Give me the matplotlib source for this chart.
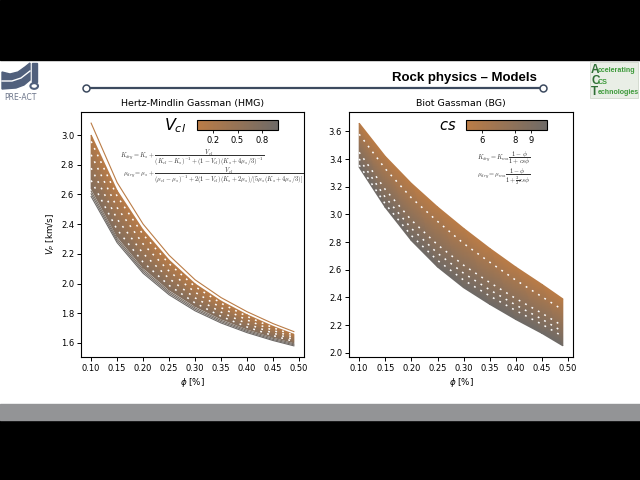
import numpy as np
import matplotlib.pyplot as plt
import matplotlib.patches as mpatches
from matplotlib.colors import LinearSegmentedColormap, Normalize
from matplotlib.ticker import MultipleLocator

# porosity grid (fraction)
phi = [0.10, 0.15, 0.20, 0.25, 0.30, 0.35, 0.40, 0.45, 0.49]

# Hertz-Mindlin Gassman, Vp [km/s]
hmg_top = [3.08, 2.68, 2.40, 2.19, 2.025, 1.905, 1.81, 1.73, 1.676]
hmg_upper = [3.00, 2.625, 2.36, 2.157, 1.997, 1.881, 1.789, 1.711, 1.658]
hmg_lower = [2.64, 2.317, 2.105, 1.957, 1.846, 1.761, 1.693, 1.638, 1.601]
hmg_gray1 = [2.622, 2.303, 2.093, 1.946, 1.836, 1.752, 1.685, 1.631, 1.594]
hmg_gray2 = [2.604, 2.289, 2.081, 1.935, 1.826, 1.743, 1.677, 1.623, 1.587]
hmg_gray3 = [2.586, 2.275, 2.069, 1.924, 1.816, 1.734, 1.669, 1.616, 1.580]
hmg_dash1 = [2.957, 2.588, 2.329, 2.133, 1.979, 1.867, 1.778, 1.702, 1.651]
hmg_dash2 = [2.867, 2.511, 2.266, 2.083, 1.941, 1.837, 1.754, 1.684, 1.637]
hmg_dash3 = [2.777, 2.434, 2.202, 2.033, 1.903, 1.807, 1.729, 1.666, 1.623]
hmg_dash4 = [2.694, 2.363, 2.143, 1.987, 1.869, 1.779, 1.707, 1.649, 1.610]

# Biot Gassman, Vp [km/s]
bg_upper = [3.66, 3.42, 3.225, 3.055, 2.90, 2.755, 2.62, 2.495, 2.39]
bg_lower = [3.34, 3.05, 2.81, 2.62, 2.47, 2.35, 2.24, 2.14, 2.05]
bg_dash1 = [3.58, 3.33, 3.12, 2.95, 2.79, 2.655, 2.525, 2.405, 2.31]
bg_dash2 = [3.449, 3.18, 2.959, 2.781, 2.633, 2.508, 2.392, 2.286, 2.193]
bg_dash3 = [3.401, 3.124, 2.899, 2.72, 2.575, 2.455, 2.345, 2.243, 2.152]
bg_dash4 = [3.356, 3.076, 2.847, 2.668, 2.526, 2.411, 2.305, 2.206, 2.118]

vcl_ticks = [0.2, 0.5, 0.8]
cs_ticks = [6, 8, 9]

cmap = LinearSegmentedColormap.from_list('clay', ['#bb7c46', '#6e6a67'])
W, H = 640, 480


def fbox(x0, y0, x1, y1):
    # pixel box (top-left origin) -> figure fraction
    return [x0 / W, 1 - y1 / H, (x1 - x0) / W, (y1 - y0) / H]


def fp(x, y):
    return (x / W, 1 - y / H)


def band(ax, x, lo, hi, c_lo, c_hi):
    X = np.array([x, x])
    Y = np.array([lo, hi])
    C = np.array([[c_lo] * len(x), [c_hi] * len(x)])
    ax.pcolormesh(X, Y, C, shading='gouraud', cmap=cmap, vmin=0, vmax=1)


def dots(ax, x, y):
    ax.plot(x, y, color='white', lw=1.1, ls=(0, (1.2, 3.6)))


fig = plt.figure(figsize=(6.4, 4.8), dpi=100)
fig.patch.set_facecolor('white')

# slide frame
fig.patches.append(mpatches.Rectangle((0, 1 - 60 / H), 1, 60 / H, transform=fig.transFigure, color='black'))
fig.patches.append(mpatches.Rectangle((0, 0), 1, 60 / H, transform=fig.transFigure, color='black'))
fig.patches.append(mpatches.Rectangle((0, 60 / H), 1, 16 / H, transform=fig.transFigure, color='#939496'))

# header
fig.text(537 / W, 1 - 78 / H, 'Rock physics \u2013 Models', ha='right', va='center',
         fontsize=9.5, fontweight='bold', family='Liberation Sans')
fig.add_artist(plt.Line2D([86 / W, 543 / W], [1 - 88 / H] * 2, color='#3c4a5f', lw=1.6,
                          marker='o', ms=5, mfc='white', mec='#3c4a5f', mew=1.1))

# PRE-ACT logo
logo_c = '#51607c'
swoosh = [(2, 72), (10, 74), (18, 72), (25, 67), (30, 63), (30, 80), (24, 85), (16, 88), (2, 89)]
fig.patches.append(mpatches.Polygon([fp(*p) for p in swoosh], closed=True,
                                    transform=fig.transFigure, color=logo_c))
fig.add_artist(plt.Line2D([fp(2, 81)[0], fp(12, 81)[0], fp(21, 78)[0], fp(30, 71)[0]],
                          [fp(2, 81)[1], fp(12, 81)[1], fp(21, 78)[1], fp(30, 71)[1]],
                          color='white', lw=1.0))
fig.patches.append(mpatches.Rectangle(fp(32, 82), 4.5 / W, 19 / H, transform=fig.transFigure, color=logo_c))
fig.patches.append(mpatches.Circle(fp(34.2, 86), 3.8 / W, transform=fig.transFigure,
                                   facecolor='white', edgecolor=logo_c, lw=1.5))
fig.text(20 / W, 1 - 97 / H, 'PRE-ACT', ha='center', va='center', fontsize=5.5, color='#6b7489')

# ACT logo
fig.patches.append(mpatches.Rectangle(fp(590, 98), 48 / W, 36 / H, transform=fig.transFigure,
                                      facecolor='#e9eee6', edgecolor='#c8d2c4', lw=0.5))
for i, (big, small) in enumerate([('A', 'ccelerating'), ('C', 'CS'), ('T', 'echnologies')]):
    yy = 1 - (70 + i * 11) / H
    fig.text(591 / W, yy, big, fontsize=8.5, color='#2f6e35', fontweight='bold', va='center',
             family='Liberation Sans')
    fig.text(598 / W, yy - 1 / H, small, fontsize=5.1, color='#3d9a3a', fontweight='bold', va='center',
             family='Liberation Sans')

ax1 = fig.add_axes(fbox(81, 112, 304, 357))
ax2 = fig.add_axes(fbox(349, 112, 573, 357))

# HMG panel
band(ax1, phi, hmg_lower, hmg_upper, 0.75, 0.0)
ax1.plot(phi, hmg_top, color=cmap(0.0), lw=0.8)
ax1.plot(phi, hmg_gray1, color=cmap(0.85), lw=0.8)
ax1.plot(phi, hmg_gray2, color=cmap(0.92), lw=0.8)
ax1.plot(phi, hmg_gray3, color=cmap(1.0), lw=0.8)
for d in [hmg_dash1, hmg_dash2, hmg_dash3, hmg_dash4]:
    dots(ax1, phi, d)

# BG panel
band(ax2, phi, bg_lower, bg_upper, 1.0, 0.0)
for d in [bg_dash1, bg_dash2, bg_dash3, bg_dash4]:
    dots(ax2, phi, d)

for ax, title in [(ax1, 'Hertz-Mindlin Gassman (HMG)'), (ax2, 'Biot Gassman (BG)')]:
    ax.use_sticky_edges = False
    ax.margins(0.05)
    ax.set_title(title, fontsize=6.8, pad=4)
    ax.set_xlabel(r'$\phi$ [%]', fontsize=6.3, labelpad=2)
    ax.xaxis.set_major_locator(MultipleLocator(0.05))
    ax.yaxis.set_major_locator(MultipleLocator(0.2))
    ax.tick_params(labelsize=6, length=3, width=0.7, pad=2)
    for s in ax.spines.values():
        s.set_linewidth(0.8)
ax1.set_ylabel(r'$V_P$ [km/s]', fontsize=6.3, labelpad=3)

# colorbars
cax1 = fig.add_axes(fbox(197, 120, 278, 130))
cb1 = fig.colorbar(plt.cm.ScalarMappable(norm=Normalize(0, 1), cmap=cmap), cax=cax1,
                   orientation='horizontal', ticks=vcl_ticks)
cax2 = fig.add_axes(fbox(466, 120, 547, 130))
cb2 = fig.colorbar(plt.cm.ScalarMappable(norm=Normalize(5, 10), cmap=cmap), cax=cax2,
                   orientation='horizontal', ticks=cs_ticks)
for cb in [cb1, cb2]:
    cb.ax.tick_params(labelsize=6, length=2.5, width=0.6, pad=1.5)
    cb.outline.set_linewidth(0.8)
fig.text(175 / W, 1 - 126 / H, r'$V_{cl}$', fontsize=11.5, ha='center', va='center')
fig.text(448 / W, 1 - 126 / H, r'$cs$', fontsize=10.5, ha='center', va='center')

# model equations
eq = dict(fontsize=4.6, ha='center', va='center', math_fontfamily='cm', color='#333333')
fig.text(192 / W, 1 - 158 / H,
         r'$K_{dry}=K_s+\dfrac{V_{cl}}{(K_{cl}-K_s)^{-1}+(1-V_{cl})(K_s+4\mu_s/3)^{-1}}$', **eq)
fig.text(213 / W, 1 - 176 / H,
         r'$\mu_{dry}=\mu_s+\dfrac{V_{cl}}{(\mu_{cl}-\mu_s)^{-1}+2(1-V_{cl})(K_s+2\mu_s)/[5\mu_s(K_s+4\mu_s/3)]}$', **eq)
fig.text(504 / W, 1 - 158 / H, r'$K_{dry}=K_{ma}\dfrac{1-\phi}{1+cs\phi}$', **eq)
fig.text(504 / W, 1 - 177 / H, r'$\mu_{dry}=\mu_{ma}\dfrac{1-\phi}{1+\frac{3}{2}cs\phi}$', **eq)

fig.savefig('out.png', dpi=100)
